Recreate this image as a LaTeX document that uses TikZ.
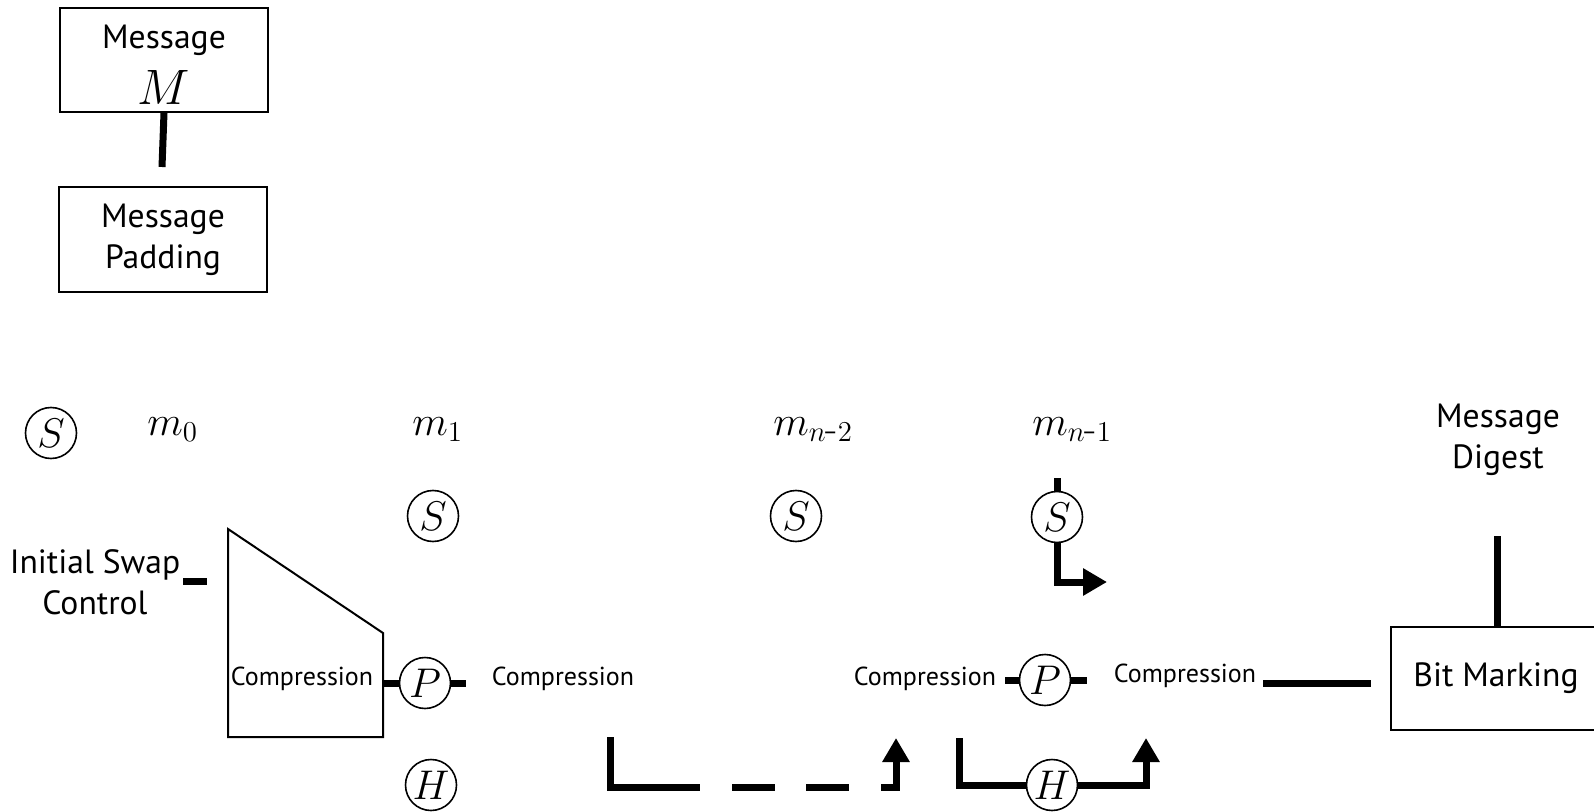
\documentclass[tikz,border=0pt]{standalone}
\usepackage{fontspec}
\newfontfamily\lab{PT Sans}
\usetikzlibrary{arrows.meta}
\begin{document}
\begin{tikzpicture}[x=0.5pt,y=-0.5pt,
  thk/.style={line width=3.5pt},
  thin/.style={line width=1pt},
  box/.style={draw,line width=1pt,inner sep=0,align=center},
  circ/.style={draw,circle,line width=0.8pt,minimum size=25.5pt,inner sep=0,font=\fontsize{20}{20}\selectfont},
  big/.style={font=\lab\fontsize{16.8}{20.5}\selectfont,align=center,inner sep=0},
  small/.style={font=\lab\fontsize{13}{15}\selectfont,inner sep=0},
  mlab/.style={font=\fontsize{20}{20}\selectfont,inner sep=0,anchor=base west},
  arr/.style={thk,-{Triangle[width=13pt,length=12pt]}}]
\useasboundingbox (0,0) rectangle (1594,812);
\clip (0,0) rectangle (1594,812);

% top boxes
\node[box,minimum width=104pt,minimum height=52pt] (msgM) at (164,60) {};
\node[big] (msgTxt) at (164,40) {Message};
\node[font=\fontsize{23}{23}\selectfont,inner sep=0] (Mtxt) at (164,88) {$M$};
\node[box,big,minimum width=104pt,minimum height=52.5pt] (pad) at (163,239.5) {Message\\Padding};
\coordinate (msgEnd) at (162,167);
\draw[thk] (msgM.south) -- (msgEnd);

% row of labels
\node[circ] (S0) at (51,433) {$S$};
\node[mlab] (m0) at (147,435) {$m_0$};
\node[mlab] (m1) at (412,435) {$m_1$};
\node[mlab] (mn2) at (773,435) {$m_{n\textrm{-}2}$};
\node[mlab] (mn1) at (1032,435) {$m_{n\textrm{-}1}$};
\node[big] (digest) at (1498,440) {Message\\Digest};

% S circles
\node[circ] (S1) at (433,516) {$S$};
\node[circ] (S2) at (796,516) {$S$};
\node[circ] (S3) at (1057,517) {$S$};
\coordinate (S3top) at (1057,478);
\coordinate (S3arr) at (1107,582);
\draw[thk] (S3top) -- (S3.north);
\draw[arr] (S3.south) |- (S3arr);

% initial swap control
\node[big] (isc) at (95,582) {Initial Swap\\Control};
\coordinate (iscA) at (183,581);
\coordinate (iscB) at (207,581);
\draw[thk] (iscA) -- (iscB);

% first compression trapezoid
\coordinate (tA) at (228,529);
\coordinate (tB) at (383,633);
\coordinate (tC) at (383,737);
\coordinate (tD) at (228,737);
\draw[thin,line join=miter] (tA) -- (tB) -- (tC) -- (tD) -- cycle;
\node[small] (comp1) at (302,679) {Compression};
\coordinate (trapR) at (383,683);
\node[circ] (P1) at (425,683) {$P$};
\coordinate (P1end) at (466,683);
\draw[thk] (trapR) -- (P1.west);
\draw[thk] (P1.east) -- (P1end);
\node[circ] (H1) at (431,785) {$H$};

% other compressions
\node[small] (comp2) at (563,679) {Compression};
\node[small] (comp3) at (925,679) {Compression};
\node[circ] (P2) at (1045,680) {$P$};
\coordinate (P2a) at (1005,680);
\coordinate (P2b) at (1087,680);
\draw[thk] (P2a) -- (P2.west);
\draw[thk] (P2.east) -- (P2b);
\node[small] (comp4) at (1185,676) {Compression};
\coordinate (c4a) at (1263,683);
\coordinate (c4b) at (1371,683);
\draw[thk] (c4a) -- (c4b);

% bit marking
\node[box,big,minimum width=105pt,minimum height=51.5pt] (bit) at (1496,678.5) {Bit Marking};
\coordinate (bitUp) at (1497,536);
\draw[thk] (bit.north -| bitUp) -- (bitUp);

% dashed bracket
\coordinate (d0) at (610,737);
\coordinate (d1) at (700,787);
\coordinate (d2) at (732,787);
\coordinate (d3) at (775,787);
\coordinate (d4) at (806,787);
\coordinate (d5) at (849,787);
\coordinate (d6) at (881,787);
\coordinate (d7) at (896,738);
\draw[thk,line join=miter] (d0) |- (d1);
\draw[thk] (d2) -- (d3);
\draw[thk] (d4) -- (d5);
\draw[arr,line join=miter] (d6) -| (d7);

% bracket with H
\node[circ] (H2) at (1052,785) {$H$};
\coordinate (b0) at (959,738);
\coordinate (b1) at (1146,738);
\draw[thk,line join=miter] (b0) |- (H2.west);
\draw[arr,line join=miter] (H2.east) -| (b1);
\end{tikzpicture}
\end{document}
